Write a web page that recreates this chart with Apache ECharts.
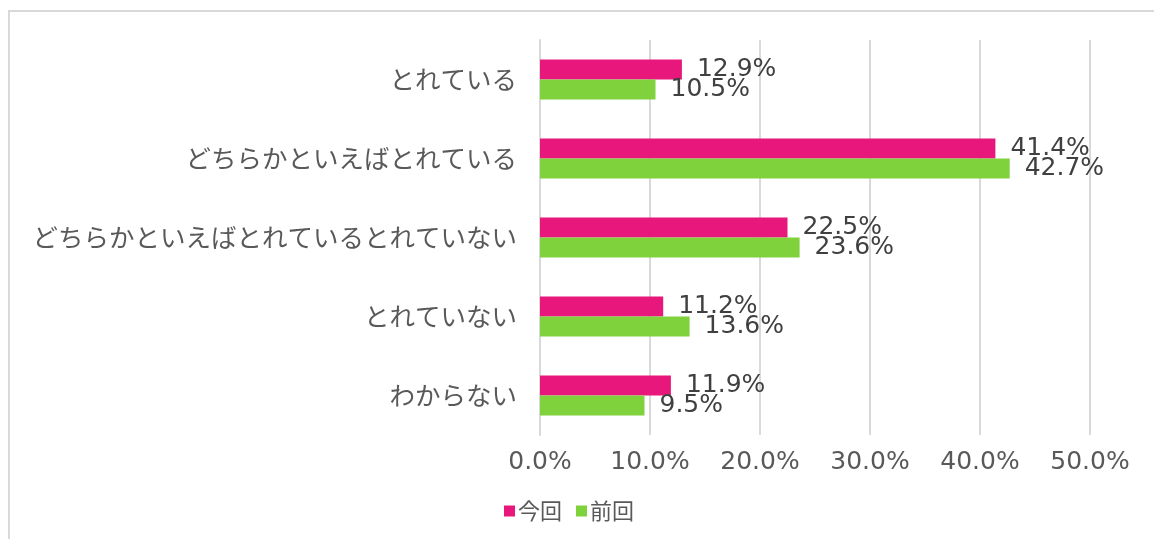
<!DOCTYPE html>
<html>
<head>
<meta charset="utf-8">
<script src="https://cdn.jsdelivr.net/npm/echarts@6/dist/echarts.min.js"></script>
<style>
  html, body { margin: 0; padding: 0; background: #fff; }
  #frame {
    position: absolute; left: 8px; top: 10px; width: 1160px; height: 560px;
    border: 2px solid #d9d9d9; box-sizing: border-box;
  }
  #chart { position: absolute; left: 0; top: 0; width: 1154px; height: 539px; }
</style>
</head>
<body>
<div id="frame"></div>
<div id="chart"></div>
<script>
// 選択肢
var categories = ['とれている', 'どちらかといえばとれている', 'どちらかといえばとれているとれていない', 'とれていない', 'わからない']
// 今回・前回の割合(%)
var thisTime = [12.9, 41.4, 22.5, 11.2, 11.9]
var lastTime = [10.5, 42.7, 23.6, 13.6, 9.5]
var xTicks = [0, 10, 20, 30, 40, 50]

var font = '"Noto Sans CJK JP", "Noto Sans", sans-serif'
var numFont = '"DejaVu Sans", sans-serif'

var labelStyle = {
  show: true,
  position: 'right',
  distance: 15,
  color: '#404040',
  fontSize: 25,
  fontFamily: numFont,
  formatter: function (p) { return p.value.toFixed(1) + '%' }
}

var myChart = echarts.init(document.getElementById('chart'))
myChart.setOption({
  animation: false,
  textStyle: { fontFamily: font },
  grid: { left: 540, right: 64, top: 40, bottom: 104, containLabel: false },
  legend: {
    bottom: 12,
    left: 499,
    itemWidth: 11,
    itemHeight: 11,
    itemGap: 14,
    icon: 'rect',
    textStyle: { color: '#595959', fontSize: 22, fontFamily: font, padding: [0, 0, 0, -2] },
    data: ['今回', '前回']
  },
  xAxis: {
    type: 'value',
    min: xTicks[0],
    max: xTicks[xTicks.length - 1],
    interval: 10,
    axisLine: { show: false },
    axisTick: { show: false },
    splitLine: { lineStyle: { color: '#d9d9d9', width: 2 } },
    axisLabel: {
      color: '#595959',
      fontSize: 25,
      fontFamily: numFont,
      margin: 15,
      formatter: function (v) { return v.toFixed(1) + '%' }
    }
  },
  yAxis: {
    type: 'category',
    inverse: true,
    data: categories,
    axisLine: { lineStyle: { color: '#d9d9d9', width: 2 } },
    axisTick: { show: false },
    axisLabel: { color: '#595959', fontSize: 25.5, fontFamily: font, margin: 23 }
  },
  series: [
    {
      name: '今回',
      type: 'bar',
      data: thisTime,
      barWidth: 20,
      barGap: '0%',
      itemStyle: { color: '#e8177b' },
      label: labelStyle
    },
    {
      name: '前回',
      type: 'bar',
      data: lastTime,
      barWidth: 20,
      itemStyle: { color: '#7fd23c' },
      label: labelStyle
    }
  ]
})
</script>
</body>
</html>
